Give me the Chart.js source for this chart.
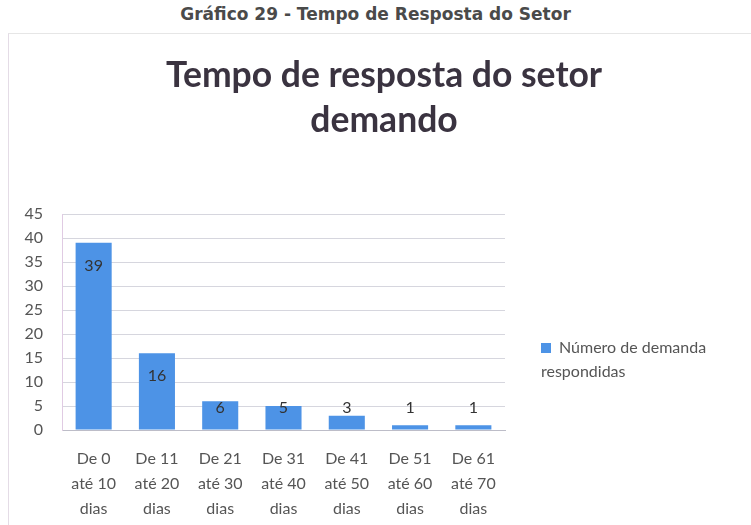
<!DOCTYPE html>
<html>
<head>
<meta charset="utf-8">
<script src="https://cdn.jsdelivr.net/npm/chart.js@4"></script>
<style>
    html, body { margin: 0; padding: 0; background: #fff; }
    body { width: 751px; height: 525px; position: relative; overflow: hidden; font-family: Lato, sans-serif; }
    .caption {
        position: absolute; left: 0; top: 4px; width: 751px; text-align: center;
        font-family: 'DejaVu Sans', sans-serif; font-weight: bold; font-size: 17px; color: #4a4a4a;
    }
    .frame {
        position: absolute; left: 8px; top: 33px; width: 743px; height: 492px;
        border-left: 1px solid #e4dce6; border-top: 1px solid #e6e6e6; box-sizing: border-box;
    }
    .frame canvas { position: absolute; left: 0; top: 0; }
    .title {
        position: absolute; left: 0; top: 51px; width: 768px; text-align: center;
        font-family: Lato, sans-serif; font-weight: bold; font-size: 35.5px; line-height: 45px; color: #3a3340;
    }
    .legend {
        position: absolute; left: 541px; top: 335px; font-size: 16px; color: #555; line-height: 24px;
    }
    .legend .box { display: inline-block; width: 10px; height: 10px; background: #4d93e6; margin-right: 8px; }
</style>
</head>
<body>
<div class="caption">Gráfico 29 - Tempo de Resposta do Setor</div>
<div class="frame">
    <canvas id="chart" width="742" height="509"></canvas>
</div>
<div class="title" id="title"></div>
<div class="legend"><span class="box"></span>Número de demanda<br>respondidas</div>

<script>
// chart data
const categories = [
    ['De 0', 'até 10', 'dias'],
    ['De 11', 'até 20', 'dias'],
    ['De 21', 'até 30', 'dias'],
    ['De 31', 'até 40', 'dias'],
    ['De 41', 'até 50', 'dias'],
    ['De 51', 'até 60', 'dias'],
    ['De 61', 'até 70', 'dias']
];
const respondidas = [39, 16, 6, 5, 3, 1, 1];
const seriesName = 'Número de demanda respondidas';
const chartTitle = ['Tempo de resposta do setor', 'demando'];

document.getElementById('title').innerHTML = chartTitle.join('<br>');

// value labels: inside the top of tall bars, floating above short ones
const valueLabels = {
    id: 'valueLabels',
    afterDatasetsDraw(chart) {
        const ctx = chart.ctx;
        const meta = chart.getDatasetMeta(0);
        const zeroY = chart.scales.y.getPixelForValue(0);
        ctx.save();
        ctx.font = '16px Lato, sans-serif';
        ctx.fillStyle = '#333';
        ctx.textAlign = 'center';
        ctx.textBaseline = 'middle';
        meta.data.forEach((bar, i) => {
            const y = Math.min(bar.y + 23, zeroY - 22);
            ctx.fillText(String(respondidas[i]), bar.x, y);
        });
        ctx.restore();
    }
};

new Chart(document.getElementById('chart'), {
    type: 'bar',
    data: {
        labels: categories,
        datasets: [{
            label: seriesName,
            data: respondidas,
            backgroundColor: '#4d93e6',
            borderWidth: 0,
            barPercentage: 0.57,
            categoryPercentage: 1
        }]
    },
    options: {
        responsive: false,
        animation: false,
        layout: { padding: { left: 0, right: 246, top: 180, bottom: 6 } },
        plugins: {
            legend: { display: false },
            tooltip: { enabled: false }
        },
        scales: {
            x: {
                grid: { display: false, drawTicks: false },
                border: { color: '#bdbdc8' },
                ticks: {
                    color: '#555',
                    font: { family: 'Lato', size: 16, lineHeight: 1.56 },
                    padding: 16,
                    maxRotation: 0,
                    autoSkip: false
                }
            },
            y: {
                min: 0,
                max: 45,
                afterFit: (scale) => { scale.width = 53; },
                grid: { color: '#d6d6de', drawTicks: false },
                border: { color: '#e0cbe3' },
                ticks: {
                    stepSize: 5,
                    color: '#555',
                    font: { family: 'Lato', size: 16 },
                    padding: 19
                }
            }
        }
    },
    plugins: [valueLabels]
});
</script>
</body>
</html>
